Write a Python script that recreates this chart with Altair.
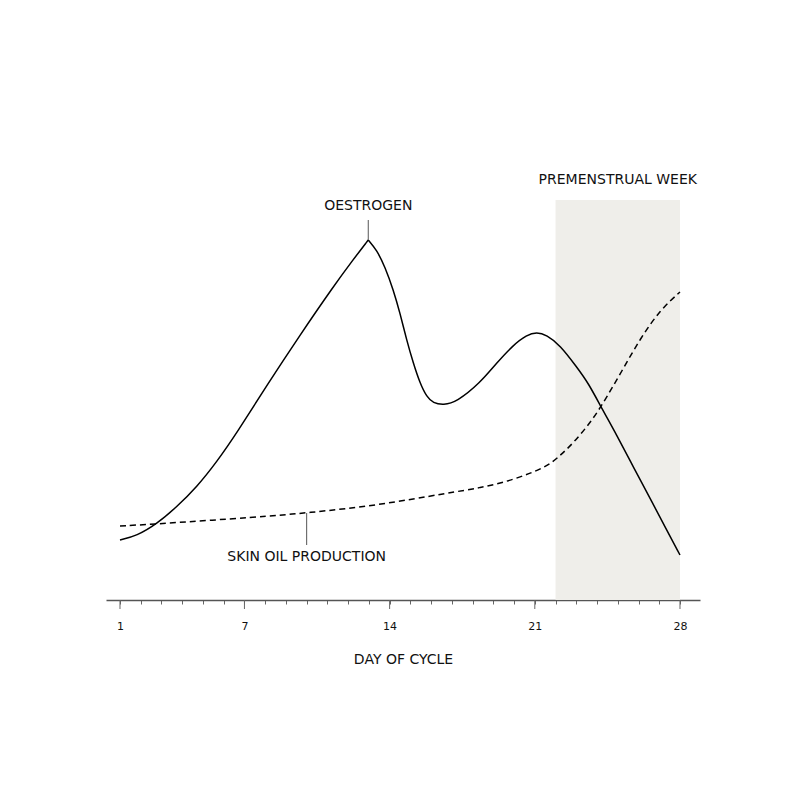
import altair as alt
import pandas as pd

# ---- data ----
oe_rise_day = [1, 1.8, 2.77, 3.73, 4.7, 5.66, 6.63, 8.09, 9.68, 11.27, 12.23, 12.97]
oe_rise_val = [60, 64, 76, 93, 113, 138, 167, 215, 265, 313, 340, 360]
oe_fall_day = [12.97, 13.38, 13.78, 14.18, 14.5, 14.82, 15.14, 15.46, 15.79, 16.1, 16.59,
               17.23, 18.36, 19.16, 19.96, 20.61, 21.09, 21.57, 22.21, 23.02, 23.58,
               24.22, 24.95, 25.75, 26.55, 27.36, 28]
oe_fall_val = [360, 350, 333, 310, 287, 260, 237, 217, 203, 197, 195,
               198, 217, 237, 255, 265, 268, 265, 255, 233, 217,
               192, 165, 133, 102, 70, 45]
oil_day = [1, 2.77, 7.67, 10.0, 13.54, 16.77, 18.36, 19.96, 21.57, 22.2, 22.86, 23.66,
           24.22, 25.2, 26.07, 27.04, 28]
oil_val = [74, 76, 83, 87, 95, 107, 112, 120, 133, 144, 157, 177,
           194, 229, 261, 290, 308]

week_start = [22]
week_end = [28]
week_low = [0]
week_high = [400]

all_days = list(range(1, 29))
major_days = [1, 7, 14, 21, 28]

labels = ["OESTROGEN", "SKIN OIL PRODUCTION", "PREMENSTRUAL WEEK"]
label_day = [12.97, 10.0, 25.0]
label_val = [394, 43, 420]

leader_day = [12.97, 10.0]
leader_top = [380, 87]
leader_bot = [360, 55]

# ---- tables ----
lines_df = pd.DataFrame({
    "day": oe_rise_day + oe_fall_day + oil_day,
    "val": oe_rise_val + oe_fall_val + oil_val,
    "seg": ["oe_rise"] * len(oe_rise_day) + ["oe_fall"] * len(oe_fall_day) + ["oil"] * len(oil_day),
    "series": ["oe"] * (len(oe_rise_day) + len(oe_fall_day)) + ["oil"] * len(oil_day),
})
week_df = pd.DataFrame({"day": week_start, "day_end": week_end, "lo": week_low, "hi": week_high})
label_df = pd.DataFrame({"day": label_day, "val": label_val, "text": labels})
leader_df = pd.DataFrame({"day": leader_day, "top": leader_top, "bot": leader_bot})
major_df = pd.DataFrame({"day": major_days})

xscale = alt.Scale(domain=[0.325, 28.965], nice=False, zero=False)
yscale = alt.Scale(domain=[0, 400], nice=False, zero=False)

xaxis = alt.Axis(
    values=all_days,
    labelExpr="indexof([1,7,14,21,28], datum.value) >= 0 ? datum.label : ''",
    tickSize=4, tickColor="#666666", tickWidth=1,
    domainColor="#555555", domainWidth=1.6,
    labelFont="DejaVu Sans", labelFontSize=11, labelColor="#111111",
    labelPadding=16, labelFlush=False, labelOverlap=False,
    grid=False,
    title="DAY OF CYCLE", titleFont="DejaVu Sans", titleFontSize=14,
    titleFontWeight="normal", titleColor="#111111", titlePadding=21,
)

def X(**kw):
    return alt.X("day:Q", scale=xscale, axis=xaxis, **kw)

week = alt.Chart(week_df).mark_rect(color="#efeeea").encode(
    x=X(), x2="day_end:Q",
    y=alt.Y("lo:Q", scale=yscale, axis=None), y2="hi:Q",
)

oe = alt.Chart(lines_df).transform_filter(alt.datum.series == "oe").mark_line(
    interpolate="basis", color="black", strokeWidth=1.5
).encode(
    x=X(), y=alt.Y("val:Q", scale=yscale, axis=None), detail="seg:N", order="day:Q"
)

oil = alt.Chart(lines_df).transform_filter(alt.datum.series == "oil").mark_line(
    interpolate="basis", color="black", strokeWidth=1.5, strokeDash=[6, 4]
).encode(
    x=X(), y=alt.Y("val:Q", scale=yscale, axis=None), order="day:Q"
)

leaders = alt.Chart(leader_df).mark_rule(color="#555555", strokeWidth=1).encode(
    x=X(), y=alt.Y("top:Q", scale=yscale, axis=None), y2="bot:Q"
)

major_ticks = alt.Chart(major_df).mark_rule(color="#666666", strokeWidth=1).encode(
    x=X(), y=alt.value(400), y2=alt.value(409)
)

texts = alt.Chart(label_df).mark_text(
    font="DejaVu Sans", fontSize=14, color="#111111", align="center", baseline="middle"
).encode(
    x=X(), y=alt.Y("val:Q", scale=yscale, axis=None), text="text:N"
)

chart = alt.layer(week, oe, oil, leaders, major_ticks, texts).properties(
    width=594, height=400,
    background="white",
    autosize=alt.AutoSizeParams(type="none"),
    padding={"left": 98, "top": 192, "right": 92, "bottom": 192},
).configure_view(strokeWidth=0)

chart.save("out.html", embed_options={"renderer": "svg", "actions": False})
